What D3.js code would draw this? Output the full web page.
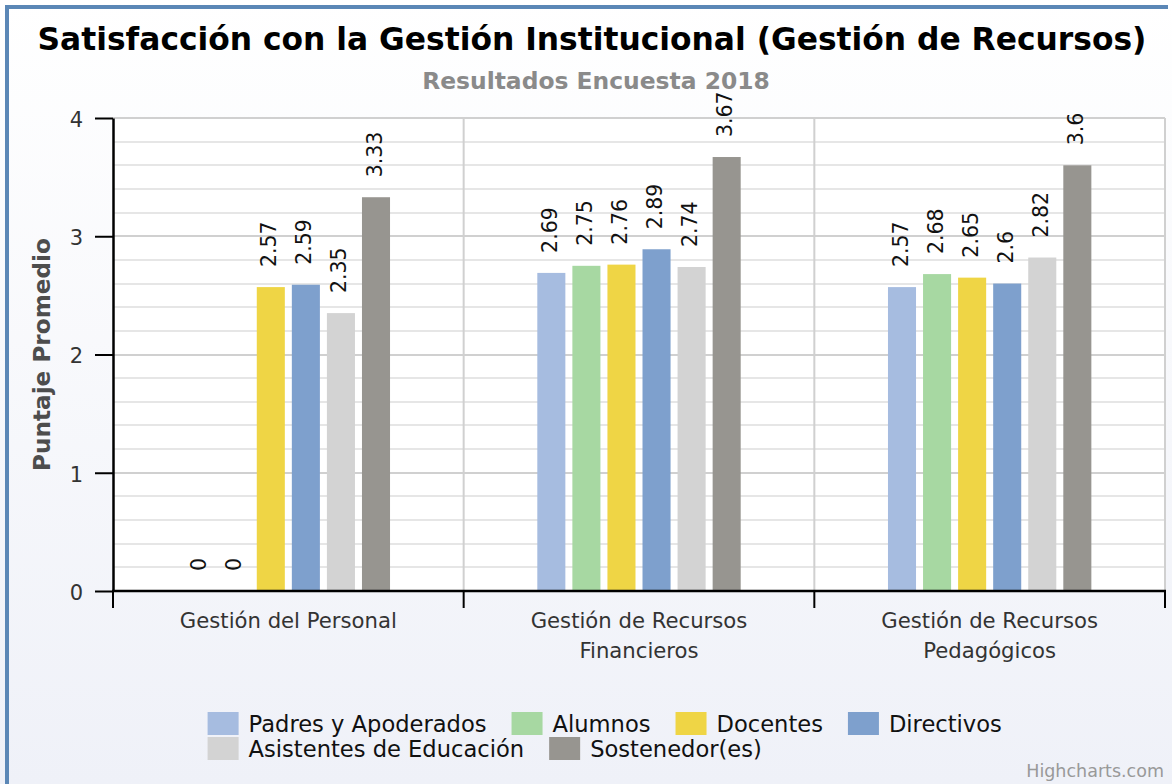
<!DOCTYPE html>
<html><head><meta charset="utf-8">
<script src="https://cdn.jsdelivr.net/npm/d3@7"></script>
<style>html,body{margin:0;padding:0;background:#fff;} svg{display:block;font-family:"DejaVu Sans",Verdana,sans-serif;}</style>
</head><body><svg id="chart" width="1172" height="784"></svg>
<script>
// ---- data ----
const titleText = "Satisfacción con la Gestión Institucional (Gestión de Recursos)";
const subtitleText = "Resultados Encuesta 2018";
const yAxisTitle = "Puntaje Promedio";
const creditsText = "Highcharts.com";
const categories = ["Gestión del Personal", "Gestión de Recursos Financieros", "Gestión de Recursos Pedagógicos"];
const categoryLines = [["Gestión del Personal"], ["Gestión de Recursos", "Financieros"], ["Gestión de Recursos", "Pedagógicos"]];
const seriesNames = ["Padres y Apoderados", "Alumnos", "Docentes", "Directivos", "Asistentes de Educación", "Sostenedor(es)"];
const padres = [0, 2.69, 2.57];
const alumnos = [0, 2.75, 2.68];
const docentes = [2.57, 2.76, 2.65];
const directivos = [2.59, 2.89, 2.6];
const asistentes = [2.35, 2.74, 2.82];
const sostenedor = [3.33, 3.67, 3.6];
const seriesValues = [padres, alumnos, docentes, directivos, asistentes, sostenedor];
const yTicks = [0, 1, 2, 3, 4];
const seriesColors = ["#a6bce0", "#a7d8a2", "#efd545", "#7ea0cd", "#d3d3d3", "#979590"];

// ---- layout ----
const W = 1172, H = 784;
const plot = {left: 113, right: 1165, top: 118, bottom: 591};
const svg = d3.select("#chart");
const defs = svg.append("defs");
const bg = defs.append("linearGradient").attr("id", "bg").attr("x1", 0).attr("y1", 0).attr("x2", 0).attr("y2", 1);
bg.append("stop").attr("offset", "0%").attr("stop-color", "#ffffff");
bg.append("stop").attr("offset", "100%").attr("stop-color", "#eff1f8");
svg.append("rect").attr("width", W).attr("height", H).attr("fill", "url(#bg)");
svg.append("rect").attr("x", plot.left).attr("y", plot.top)
  .attr("width", plot.right - plot.left).attr("height", plot.bottom - plot.top).attr("fill", "#ffffff");

// frame
svg.append("line").attr("x1", 5).attr("x2", 1168).attr("y1", 7).attr("y2", 7).attr("stroke", "#5b87b6").attr("stroke-width", 4);
svg.append("line").attr("x1", 7).attr("x2", 7).attr("y1", 5).attr("y2", H).attr("stroke", "#5b87b6").attr("stroke-width", 4);

const x0 = d3.scaleBand().domain(categories).range([plot.left, plot.right]).padding(0);
const bw = x0.bandwidth();
const x1 = d3.scaleBand().domain(seriesNames).range([0.2 * bw, 0.8 * bw]).paddingInner(0.2).paddingOuter(0.1);
const y = d3.scaleLinear().domain([0, 4]).range([plot.bottom, plot.top]);

// minor grid
svg.append("g").selectAll("line").data(y.ticks(20)).join("line")
  .attr("x1", plot.left).attr("x2", plot.right)
  .attr("y1", d => Math.round(y(d))).attr("y2", d => Math.round(y(d)))
  .attr("stroke", "#dedede").attr("stroke-width", 1.5);
// major grid
svg.append("g").selectAll("line").data(yTicks).join("line")
  .attr("x1", plot.left).attr("x2", plot.right)
  .attr("y1", d => Math.round(y(d))).attr("y2", d => Math.round(y(d)))
  .attr("stroke", "#d0d0d0").attr("stroke-width", 2);
// vertical grid at category boundaries
const bounds = categories.map(c => x0(c)).concat([x0(categories[categories.length - 1]) + bw]);
svg.append("g").selectAll("line").data(bounds.slice(1)).join("line")
  .attr("x1", d => d).attr("x2", d => d).attr("y1", plot.top).attr("y2", plot.bottom)
  .attr("stroke", "#d0d0d0").attr("stroke-width", 2);

// bars
const flat = [];
categories.forEach((c, ci) => seriesNames.forEach((s, si) => flat.push({c, s, si, v: seriesValues[si][ci]})));
svg.append("g").selectAll("rect").data(flat.filter(d => d.v > 0)).join("rect")
  .attr("x", d => x0(d.c) + x1(d.s)).attr("width", x1.bandwidth())
  .attr("y", d => y(d.v)).attr("height", d => y(0) - y(d.v))
  .attr("fill", d => seriesColors[d.si]);

// data labels
svg.append("g").selectAll("text").data(flat).join("text")
  .attr("transform", d => `translate(${x0(d.c) + x1(d.s) + x1.bandwidth() / 2 + 5.5},${y(d.v) - 20}) rotate(-90)`)
  .attr("text-anchor", "start").attr("font-size", 20.5).attr("fill", "#111")
  .text(d => String(d.v));

// y axis
const yAxis = svg.append("g").attr("transform", `translate(${plot.left},0)`)
  .call(d3.axisLeft(y).tickValues(yTicks).tickSize(18).tickSizeOuter(0).tickPadding(12).tickFormat(d3.format("d")));
yAxis.select(".domain").attr("stroke", "#000").attr("stroke-width", 2.5);
yAxis.selectAll(".tick line").attr("stroke", "#000").attr("stroke-width", 2);
yAxis.selectAll(".tick text").attr("font-size", 21).attr("fill", "#333").attr("font-family", "DejaVu Sans").attr("dy", "0.4em");

// x axis
svg.append("line").attr("x1", plot.left - 1).attr("x2", plot.right + 1).attr("y1", plot.bottom).attr("y2", plot.bottom)
  .attr("stroke", "#000").attr("stroke-width", 2.5);
svg.append("g").selectAll("line").data(bounds).join("line")
  .attr("x1", d => d).attr("x2", d => d).attr("y1", plot.bottom).attr("y2", plot.bottom + 17)
  .attr("stroke", "#000").attr("stroke-width", 2);
const xl = svg.append("g").selectAll("text").data(categories).join("text")
  .attr("x", d => x0(d) + bw / 2).attr("y", plot.bottom + 37)
  .attr("text-anchor", "middle").attr("font-size", 21.2).attr("fill", "#333");
xl.each(function (d, i) {
  d3.select(this).selectAll("tspan").data(categoryLines[i]).join("tspan")
    .attr("x", x0(d) + bw / 2).attr("dy", (t, j) => j === 0 ? 0 : 30).text(t => t);
});

function fit(sel, target) {
  const w = sel.node().getComputedTextLength();
  sel.attr("font-size", parseFloat(sel.attr("font-size")) * target / w);
}
// title
const t = svg.append("text").attr("x", 592).attr("y", 50).attr("text-anchor", "middle")
  .attr("font-size", 30).attr("font-weight", "bold").attr("fill", "#000").text(titleText);
fit(t, 1109);
const st = svg.append("text").attr("x", 596).attr("y", 89).attr("text-anchor", "middle")
  .attr("font-size", 20).attr("font-weight", "bold").attr("fill", "#8a8a8a").text(subtitleText);
fit(st, 348);
const yt = svg.append("text").attr("transform", `translate(50,${(plot.top + plot.bottom) / 2}) rotate(-90)`)
  .attr("text-anchor", "middle").attr("font-size", 20).attr("font-weight", "bold").attr("fill", "#4d4d4d").text(yAxisTitle);
fit(yt, 233);

// legend
const legendRows = [[0, 1, 2, 3], [4, 5]];
const legendG = svg.append("g");
legendRows.forEach((row, ri) => {
  let lx = 207.6;
  const rowY = 712 + ri * 25;
  row.forEach(si => {
    legendG.append("rect").attr("x", lx).attr("y", rowY).attr("width", 31).attr("height", 23).attr("fill", seriesColors[si]);
    const tx = legendG.append("text").attr("x", lx + 41).attr("y", rowY + 20).attr("font-size", 22.6).attr("fill", "#111").text(seriesNames[si]);
    lx += 41 + tx.node().getComputedTextLength() + 25;
  });
});

// credits
svg.append("text").attr("x", 1164).attr("y", 777).attr("text-anchor", "end").attr("font-size", 17.5).attr("fill", "#999").text(creditsText);
</script></body></html>
